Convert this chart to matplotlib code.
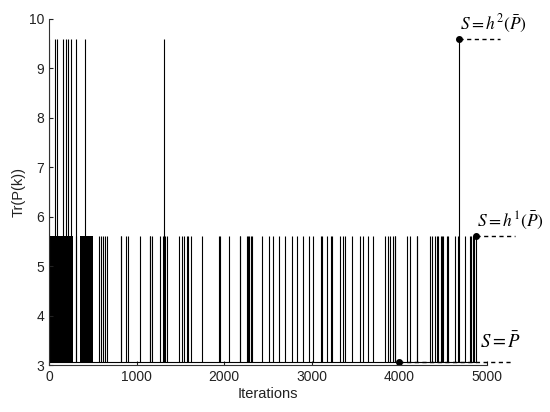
import matplotlib.pyplot as plt

# signal levels of Tr(P(k))
low_level = 3.07
mid_level = 5.6
high_level = 9.6

# iterations where the trace jumps up to the middle level
mid_spikes = [308, 575, 595, 613, 640, 659, 818, 826, 880, 905, 1040, 1150, 1156, 1173,
              1268, 1298, 1325, 1351, 1488, 1515, 1542, 1572, 1591, 1622, 1751, 1941, 1949,
              2059, 2177, 2185, 2260, 2275, 2290, 2305, 2320, 2436, 2512, 2562, 2630, 2695,
              2772, 2829, 2904, 2969, 3019, 3110, 3118, 3171, 3221, 3228, 3323, 3361, 3380,
              3457, 3551, 3582, 3647, 3704, 3837, 3875, 3894, 3932, 3947, 3955, 4085, 4122,
              4198, 4206, 4351, 4370, 4408, 4427, 4446, 4477, 4484, 4496, 4541, 4560, 4637,
              4667, 4751, 4808, 4819, 4842, 4853, 4877]
# ranges where the switching is too dense to tell apart
dense_blocks = [(0, 275), (355, 505)]
# iterations where the trace jumps up to the high level
high_spikes = [5, 70, 88, 155, 200, 220, 250, 305, 410, 1315, 4682]

# marked points for the three annotations
mark_x = [4682, 4877, 3995]
mark_y = [high_level, mid_level, low_level]
mark_end = [5150, 5320, 5290]
mark_text = [r'$S=h^{2}(\bar{P})$', r'$S=h^{1}(\bar{P})$', r'$S=\bar{P}$']
mark_size = [12.5, 12.5, 13.5]
text_pos = [(4690, 9.7), (4890, 5.72), (4925, 3.26)]

plt.rcParams['font.family'] = ['Liberation Sans', 'DejaVu Sans']
plt.rcParams['mathtext.fontset'] = 'stix'

fig = plt.figure(figsize=(5.5, 4.12), dpi=100)
ax = fig.add_axes([0.089, 0.114, 0.796, 0.840])

for x0, x1 in dense_blocks:
    ax.fill_between([x0, x1], low_level, mid_level, color='black', lw=0)
ax.vlines(mid_spikes, low_level, mid_level, color='black', lw=0.8)
ax.vlines(high_spikes, low_level, high_level, color='black', lw=0.8)
ax.plot([0, 4877], [low_level, low_level], color='black', lw=0.8)

for x, y, xe, t, fs, (tx, ty) in zip(mark_x, mark_y, mark_end, mark_text, mark_size, text_pos):
    ax.plot([x, xe], [y, y], color='black', lw=1, dashes=(3, 2.5), clip_on=False)
    ax.plot(x, y, 'o', color='black', ms=4, clip_on=False)
    ax.text(tx, ty, t, fontsize=fs, ha='left', va='bottom')

ax.set_xlim(0, 5000)
ax.set_ylim(3, 10)
ax.set_xticks([0, 1000, 2000, 3000, 4000, 5000])
ax.set_yticks([3, 4, 5, 6, 7, 8, 9, 10])
ax.tick_params(direction='in', labelsize=10, length=3, colors='#222222')
ax.spines['top'].set_visible(False)
ax.spines['right'].set_visible(False)
ax.spines['left'].set_color('#333333')
ax.spines['bottom'].set_color('#333333')
ax.set_xlabel('Iterations', fontsize=10.5, labelpad=2, color='#222222')
ax.set_ylabel('Tr(P(k))', fontsize=10.5, labelpad=2, color='#222222')

fig.savefig('out.png', dpi=100)
